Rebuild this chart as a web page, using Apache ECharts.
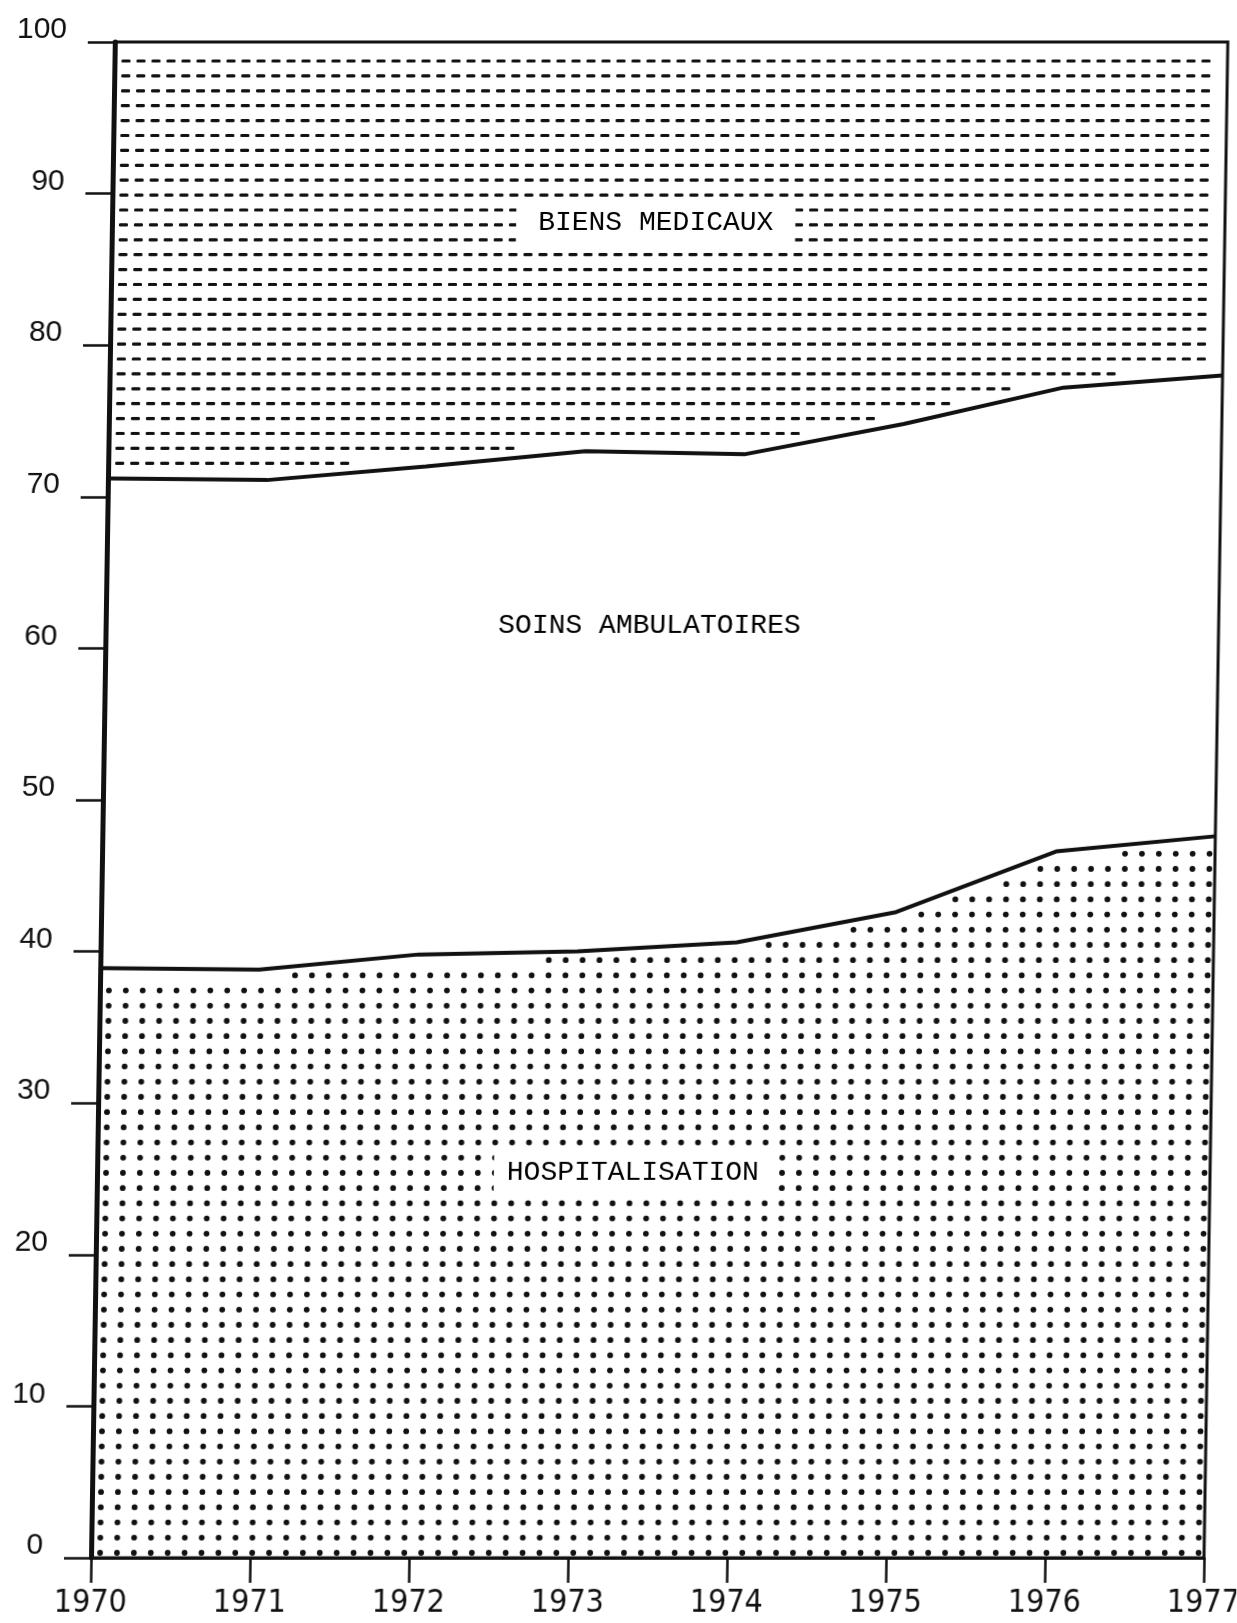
<!DOCTYPE html>
<html><head><meta charset="utf-8">
<script src="https://cdn.jsdelivr.net/npm/echarts@6/dist/echarts.min.js"></script>
<style>
html,body{margin:0;padding:0;background:#fff;overflow:hidden;}
#c{position:absolute;left:-40px;top:0;width:1277px;height:1623px;transform:skewX(-0.9deg);transform-origin:0 1558px;}
</style>
</head><body><div id="c"></div>
<script>
// ---- data (shares of total, %) ----
const years = [1970, 1971, 1972, 1973, 1974, 1975, 1976, 1977];
const hospitalisation   = [38.9, 38.8, 39.8, 40.0, 40.6, 42.6, 46.6, 47.6];
const soinsAmbulatoires = [32.3, 32.3, 32.2, 33.0, 32.2, 32.2, 30.6, 30.4];
const biensMedicaux     = [28.8, 28.9, 28.0, 27.0, 27.2, 25.2, 22.8, 22.0];
const yTickLabels = ['0','10','20','30','40','50','60','70','80','90','100'];
const areaNames = ['BIENS MEDICAUX', 'SOINS AMBULATOIRES', 'HOSPITALISATION'];

// cumulative edges of the stacked shares
const lowerEdge = hospitalisation.slice();
const upperEdge = hospitalisation.map((v, i) => +(v + soinsAmbulatoires[i]).toFixed(1));
const topEdge = upperEdge.map((v, i) => +(v + biensMedicaux[i]).toFixed(1));

const INK = '#111';

function polyAt(pts, x) {
  if (x <= pts[0][0]) return pts[0][1];
  for (let i = 0; i < pts.length - 1; i++) {
    const a = pts[i], b = pts[i + 1];
    if (x <= b[0]) return a[1] + (b[1] - a[1]) * (x - a[0]) / (b[0] - a[0]);
  }
  return pts[pts.length - 1][1];
}

// typewriter dash fill between the upper edge and the top edge
function dashRender(params, api) {
  const kids = [];
  if (params.dataIndex === 0) {
    const pts = years.map((yr, i) => api.coord([yr, upperEdge[i]]));
    const tops = years.map((yr, i) => api.coord([yr, topEdge[i]]));
    const xl = tops[0][0];
    const xr = tops[tops.length - 1][0];
    const top = Math.min.apply(null, tops.map(p => p[1]));
    const maxY = Math.max.apply(null, pts.map(p => p[1]));
    for (let y = top + 19; y < maxY; y += 14.9) {
      for (let x = xl + 7; x + 9 <= xr - 4; x += 15) {
        if (polyAt(pts, x) - y >= 9.5 && polyAt(pts, x + 9) - y >= 9.5) {
          kids.push({type: 'rect', shape: {x: x, y: y - 1.6, width: 9, height: 3.2, r: 1.2}, style: {fill: INK}});
        }
      }
    }
  }
  return {type: 'group', children: kids};
}

// typewriter dot fill below the lower edge
function dotRender(params, api) {
  const kids = [];
  if (params.dataIndex === 0) {
    const pts = years.map((yr, i) => api.coord([yr, lowerEdge[i]]));
    const bl = api.coord([years[0], 0]);
    const xr = api.coord([years[years.length - 1], 0])[0];
    const minY = Math.min.apply(null, pts.map(p => p[1]));
    for (let y = bl[1] - 5; y > minY; y -= 15.2) {
      for (let x = bl[0] + 9; x <= xr - 4; x += 16.9) {
        if (y - polyAt(pts, x) >= 8) {
          kids.push({type: 'circle', shape: {cx: x, cy: y, r: 2.9}, style: {fill: INK}});
        }
      }
    }
  }
  return {type: 'group', children: kids};
}

const chart = echarts.init(document.getElementById('c'), null, {renderer: 'canvas'});
chart.setOption({
  animation: false,
  backgroundColor: '#fff',
  grid: {left: 131, right: 33, top: 42, bottom: 65, show: true, borderColor: INK, borderWidth: 3,
         containLabel: false, outerBoundsMode: 'none'},
  xAxis: {
    type: 'value', min: 1970, max: 1977, interval: 1,
    splitLine: {show: false},
    axisLine: {show: true, lineStyle: {color: INK, width: 3}},
    axisTick: {show: true, length: 25, lineStyle: {color: INK, width: 2.5}},
    axisLabel: {
      margin: 30, fontSize: 32, lineHeight: 32, color: INK,
      fontFamily: '"Liberation Sans Narrow", "DejaVu Sans Condensed", sans-serif',
      formatter: v => String(v)
    }
  },
  yAxis: {
    type: 'value', min: 0, max: 100, interval: 10,
    splitLine: {show: false},
    axisLine: {show: true, lineStyle: {color: INK, width: 5}},
    axisTick: {show: true, length: 27, lineStyle: {color: INK, width: 2.5}},
    axisLabel: {
      margin: 48, fontSize: 30, lineHeight: 24, color: INK, fontFamily: '"Liberation Sans", sans-serif',
      verticalAlign: 'bottom',
      formatter: v => yTickLabels[Math.round(v / 10)]
    }
  },
  series: [
    {type: 'custom', coordinateSystem: 'cartesian2d', silent: true, z: 1,
     data: years.map((yr, i) => [yr, upperEdge[i]]), renderItem: dashRender},
    {type: 'custom', coordinateSystem: 'cartesian2d', silent: true, z: 1,
     data: years.map((yr, i) => [yr, lowerEdge[i]]), renderItem: dotRender},
    {type: 'line', name: 'Hospitalisation', symbol: 'none', silent: true, z: 5,
     lineStyle: {color: INK, width: 4},
     data: years.map((yr, i) => [yr, lowerEdge[i]])},
    {type: 'line', name: 'Soins ambulatoires', symbol: 'none', silent: true, z: 5,
     lineStyle: {color: INK, width: 4},
     data: years.map((yr, i) => [yr, upperEdge[i]])},
    {type: 'scatter', symbolSize: 0, silent: true, z: 10,
     itemStyle: {opacity: 1},
     label: {show: true, position: 'inside', formatter: '{b}', color: '#000', opacity: 1,
             fontFamily: '"Liberation Mono", "DejaVu Sans Mono", monospace', fontSize: 28, lineHeight: 28},
     data: [
       {name: areaNames[0], value: [1973.42, 88.06], label: {backgroundColor: '#fff', padding: [10, 22]}},
       {name: areaNames[1], value: [1973.42, 61.5]},
       {name: areaNames[2], value: [1973.37, 25.4], label: {backgroundColor: '#fff', padding: [10, 13]}}
     ]}
  ]
});
</script>
</body></html>
